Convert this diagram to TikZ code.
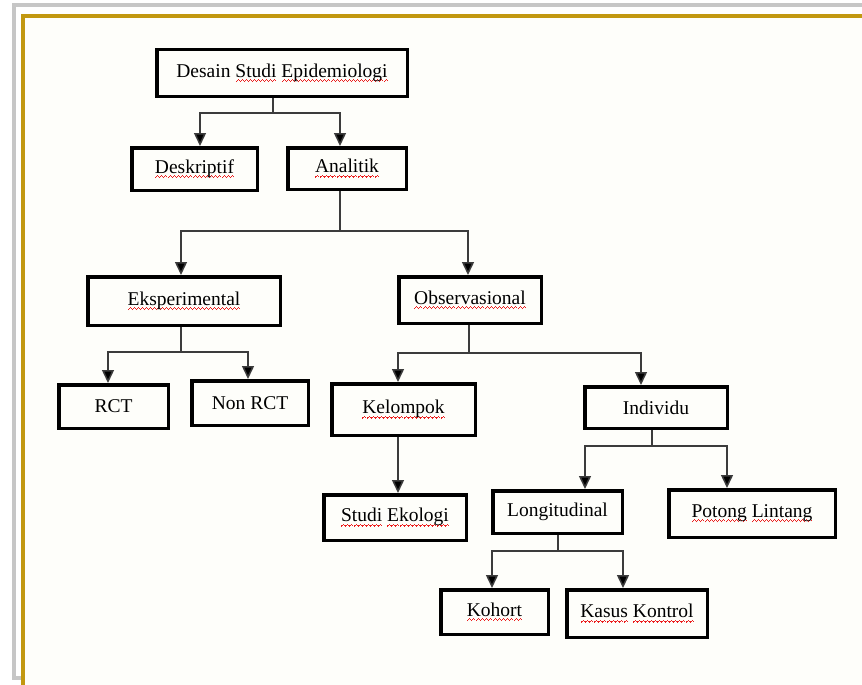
\documentclass[tikz,border=0pt]{standalone}
\usepackage{fontspec}
\setmainfont{Liberation Serif}
\usetikzlibrary{arrows.meta}

\definecolor{spellred}{RGB}{235,30,30}
\definecolor{framegray}{RGB}{198,198,198}
\definecolor{framegold}{RGB}{194,152,16}
\definecolor{paper}{RGB}{254,254,250}
\definecolor{linkgray}{RGB}{60,60,60}

% red wavy spell-check underline built from small rules
\newsavebox\spellword
\newcommand\spellwave{\hbox{%
  \rule[-4.6pt]{1pt}{1.1pt}\rule[-3.7pt]{1pt}{1.1pt}%
  \rule[-2.8pt]{1pt}{1.1pt}\rule[-3.7pt]{1pt}{1.1pt}}}
\newcommand\spell[1]{\leavevmode\sbox\spellword{#1}%
  \rlap{\color{spellred}\hbox to\wd\spellword{\xleaders\spellwave\hfil}}%
  \usebox\spellword}

\begin{document}
\begin{tikzpicture}[x=1pt,y=-1pt,
  box/.style 2 args={draw=black,line width=3.5pt,inner sep=0pt,
    minimum width={#1pt-3.5pt},minimum height={#2pt-3.5pt},
    font=\fontsize{19.5}{23}\selectfont},
  link/.style={draw=linkgray,line width=1.5pt},
  arr/.style={link,-{Triangle[width=12pt,length=13pt,fill=black]}}]

\useasboundingbox (0,0) rectangle (862,685);
\clip (0,0) rectangle (862,685);

% page frame
\fill[white] (0,0) rectangle (862,685);
\draw[framegray,line width=3.5pt] (14,5) rectangle (900,678);
\fill[paper] (23,16) rectangle (900,700);
\draw[framegold,line width=3.5pt] (23,700) -- (23,16) -- (900,16);

% boxes
\node[box={254}{50}] (top)    at (282,73)    {Desain \spell{Studi} \spell{Epidemiologi}};
\node[box={129}{46}] (desk)   at (194.5,169) {\spell{Deskriptif}};
\node[box={122}{45}] (anal)   at (347,168.5) {\spell{Analitik}};
\node[box={196}{52}] (eksp)   at (184,301)   {\spell{Eksperimental}};
\node[box={146}{50}] (obs)    at (470,300)   {\spell{Observasional}};
\node[box={113}{47}] (rct)    at (113.5,406.5) {RCT};
\node[box={120}{48}] (nonrct) at (250,403)   {Non RCT};
\node[box={147}{55}] (kel)    at (403.5,409.5) {\spell{Kelompok}};
\node[box={146}{45}] (ind)    at (656,407.5) {Individu};
\node[box={146}{49}] (eko)    at (395,517.5) {\spell{Studi} \spell{Ekologi}};
\node[box={133}{46}] (longi)  at (557.5,512) {Longitudinal};
\node[box={170}{51}] (potong) at (752,513.5) {\spell{Potong} \spell{Lintang}};
\node[box={111}{48}] (kohort) at (494.5,612) {\spell{Kohort}};
\node[box={144}{51}] (kasus)  at (637,613.5) {\spell{Kasus} \spell{Kontrol}};

% Desain Studi Epidemiologi -> Deskriptif, Analitik
\coordinate (a0) at (273,113);
\coordinate (a1) at (200,113);
\coordinate (a2) at (340,113);
\draw[link] (top.south -| a0) -- (a0);
\draw[arr] (a0) -- (a1) -- (desk.north -| a1);
\draw[arr] (a0) -- (a2) -- (anal.north -| a2);

% Analitik -> Eksperimental, Observasional
\coordinate (b0) at (340,231);
\coordinate (b1) at (181,231);
\coordinate (b2) at (468,231);
\draw[link] (anal.south -| b0) -- (b0);
\draw[arr] (b0) -- (b1) -- (eksp.north -| b1);
\draw[arr] (b0) -- (b2) -- (obs.north -| b2);

% Eksperimental -> RCT, Non RCT
\coordinate (c0) at (181,352);
\coordinate (c1) at (108,352);
\coordinate (c2) at (248,352);
\draw[link] (eksp.south -| c0) -- (c0);
\draw[arr] (c0) -- (c1) -- (rct.north -| c1);
\draw[arr] (c0) -- (c2) -- (nonrct.north -| c2);

% Observasional -> Kelompok, Individu
\coordinate (d0) at (469,353);
\coordinate (d1) at (398,353);
\coordinate (d2) at (641,353);
\draw[link] (obs.south -| d0) -- (d0);
\draw[arr] (d0) -- (d1) -- (kel.north -| d1);
\draw[arr] (d0) -- (d2) -- (ind.north -| d2);

% Kelompok -> Studi Ekologi
\coordinate (e0) at (398,450);
\draw[arr] (kel.south -| e0) -- (eko.north -| e0);

% Individu -> Longitudinal, Potong Lintang
\coordinate (f0) at (652,446);
\coordinate (f1) at (585,446);
\coordinate (f2) at (727,446);
\draw[link] (ind.south -| f0) -- (f0);
\draw[arr] (f0) -- (f1) -- (longi.north -| f1);
\draw[arr] (f0) -- (f2) -- (potong.north -| f2);

% Longitudinal -> Kohort, Kasus Kontrol
\coordinate (g0) at (558,551);
\coordinate (g1) at (492,551);
\coordinate (g2) at (623,551);
\draw[link] (longi.south -| g0) -- (g0);
\draw[arr] (g0) -- (g1) -- (kohort.north -| g1);
\draw[arr] (g0) -- (g2) -- (kasus.north -| g2);
\end{tikzpicture}
\end{document}
